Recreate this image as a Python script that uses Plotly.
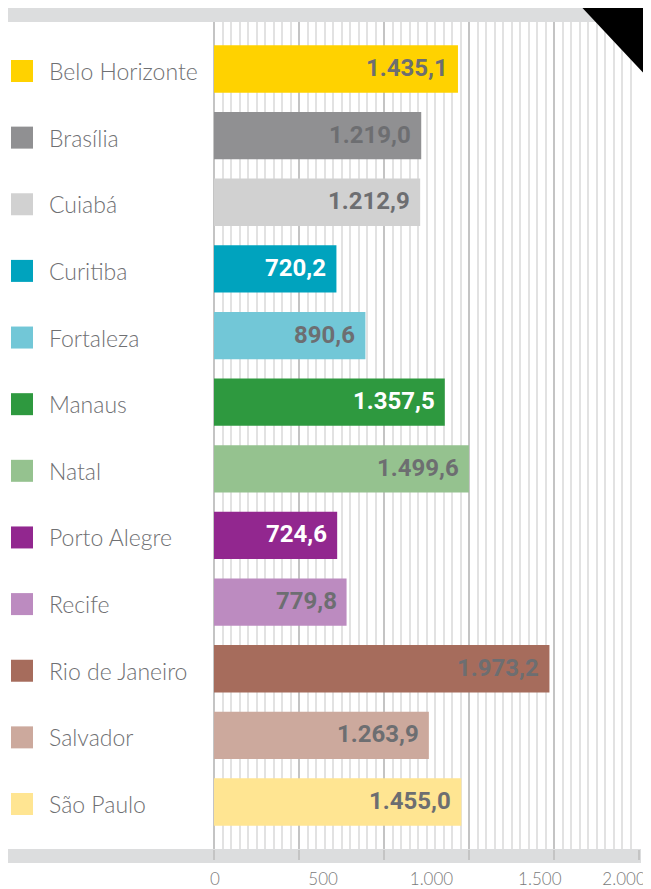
import plotly.graph_objects as go

# ---- data ----
cities = ["Belo Horizonte", "Brasília", "Cuiabá", "Curitiba", "Fortaleza", "Manaus",
          "Natal", "Porto Alegre", "Recife", "Rio de Janeiro", "Salvador", "São Paulo"]
values = [1435.1, 1219.0, 1212.9, 720.2, 890.6, 1357.5,
          1499.6, 724.6, 779.8, 1973.2, 1263.9, 1455.0]
tick_values = [0, 500, 1000, 1500, 2000]
tick_labels = ["0", "500", "1.000", "1.500", "2.000"]

# ---- styles ----
bar_colors = ["#FFD200", "#909092", "#D1D1D1", "#00A3BE", "#72C7D7", "#2E993F",
              "#95C28F", "#92278F", "#BC8BC0", "#A66C5C", "#CCA99D", "#FFE592"]
label_colors = ["#6D6E71", "#6D6E71", "#6D6E71", "#FFFFFF", "#6D6E71", "#FFFFFF",
                "#6D6E71", "#FFFFFF", "#6D6E71", "#6D6E71", "#6D6E71", "#6D6E71"]
TEXT = "#6F7073"
NAME_FONT = "Lato"
NUM_FONT = "Roboto"

OFF = 8                        # page body margin
W, H = 651 - OFF, 889 - OFF    # figure fills the window next to the body margin
L, R, T, B = 214 - OFF, 12, 22 - OFF, 40
PW = W - L - R
PH = H - T - B


def px_x(p):  # page pixel x -> paper x
    return (p - OFF - L) / PW


def px_y(p):  # page pixel y -> paper y
    return (H - B - (p - OFF)) / PH


def br(v):
    s = f"{v:,.1f}"
    return s.replace(",", "X").replace(".", ",").replace("X", ".")


fig = go.Figure()
fig.add_trace(go.Bar(
    x=values, y=cities, orientation="h", width=0.71,
    marker=dict(color=bar_colors, line=dict(width=0)),
    hoverinfo="skip", showlegend=False,
))
# invisible traces carrying the label axes
fig.add_trace(go.Scatter(
    x=tick_values[:-1], y=[cities[0]] * (len(tick_values) - 1), xaxis="x2", yaxis="y",
    mode="markers", marker=dict(opacity=0), hoverinfo="skip", showlegend=False,
))
fig.add_trace(go.Scatter(
    x=tick_values[-1:], y=[cities[0]], xaxis="x3", yaxis="y",
    mode="markers", marker=dict(opacity=0), hoverinfo="skip", showlegend=False,
))

annotations = []
shapes = []
for i, (c, v) in enumerate(zip(cities, values)):
    annotations.append(dict(
        x=v, y=c, xref="x", yref="y", text=f"<b>{br(v)}</b>", showarrow=False,
        xanchor="right", xshift=-8, yshift=1,
        font=dict(family=NUM_FONT, size=24, color=label_colors[i])))
    annotations.append(dict(
        x=px_x(47), y=c, xref="paper", yref="y", text=c, showarrow=False,
        xanchor="left", yshift=-2,
        font=dict(family=NAME_FONT, size=23, color=TEXT, weight=300)))
    shapes.append(dict(
        type="rect", xref="paper", yref="y", x0=px_x(11), x1=px_x(33),
        y0=i - 0.135, y1=i + 0.195, fillcolor=bar_colors[i], line=dict(width=0)))

# grey bands
shapes.append(dict(type="rect", xref="paper", yref="paper",
                   x0=px_x(7), x1=px_x(652), y0=px_y(22), y1=px_y(8),
                   fillcolor="#DCDDDE", line=dict(width=0), layer="below"))
shapes.append(dict(type="rect", xref="paper", yref="paper",
                   x0=px_x(8), x1=px_x(641), y0=px_y(863), y1=px_y(849),
                   fillcolor="#DCDDDE", line=dict(width=0), layer="below"))
# black corner triangle
shapes.append(dict(type="path", xref="paper", yref="paper",
                   path=f"M {px_x(575)},{px_y(0)} L {px_x(652)},{px_y(0)} "
                        f"L {px_x(652)},{px_y(82)} Z",
                   fillcolor="#000000", line=dict(width=0), layer="above"))

label_axis = dict(overlaying="x", side="bottom", anchor="y", automargin=False,
                  tickmode="array", showgrid=False, zeroline=False, ticks="",
                  showline=False, ticklabelstandoff=18, ticklabeloverflow="allow",
                  tickfont=dict(family=NAME_FONT, size=17, color="#7A7A7A", weight=300))

fig.update_layout(
    width=W, height=H, autosize=False,
    margin=dict(l=L, r=R, t=T, b=B, pad=0, autoexpand=False),
    paper_bgcolor="white", plot_bgcolor="white",
    showlegend=False,
    xaxis=dict(range=[0, 2500], dtick=500, tick0=0, showgrid=True, automargin=False,
               gridcolor="#C4C4C4", gridwidth=2,
               zeroline=True, zerolinecolor="#C4C4C4", zerolinewidth=2,
               minor=dict(dtick=50, showgrid=True, gridcolor="#E2E2E2", gridwidth=2, ticks=""),
               ticks="outside", ticklen=10, tickwidth=2, tickcolor="#C4C4C4",
               showticklabels=False, showline=False, fixedrange=True),
    xaxis2=dict(label_axis, range=[-4, 1958],
                tickvals=tick_values[:-1], ticktext=tick_labels[:-1]),
    xaxis3=dict(label_axis, range=[0, 2073],
                tickvals=tick_values[-1:], ticktext=tick_labels[-1:]),
    yaxis=dict(type="category", categoryorder="array", categoryarray=cities,
               range=[len(cities) - 1 + 0.705, -0.705], showgrid=False, automargin=False,
               zeroline=False, showticklabels=False, ticks="", showline=False),
    annotations=annotations,
    shapes=shapes,
    font=dict(family=NAME_FONT),
)

fig.write_html("out.html", config={"displayModeBar": False})
